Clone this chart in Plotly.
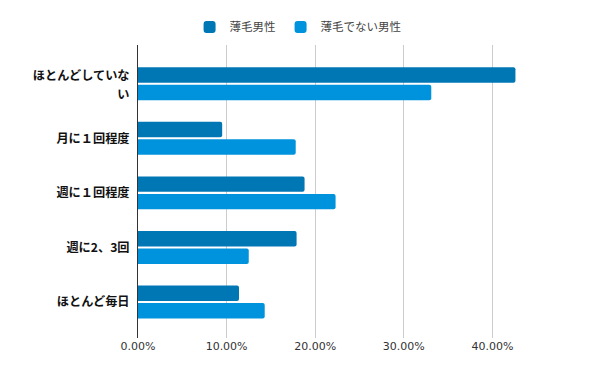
import plotly.graph_objects as go

categories = ["ほとんどしていな<br><span style='baseline-shift:-3px'>い</span>", "月に１回程度", "週に１回程度", "週に2、3回", "ほとんど毎日"]
series_names = ["薄毛男性", "薄毛でない男性"]
thin_hair = [0.426, 0.095, 0.188, 0.179, 0.114]
not_thin_hair = [0.331, 0.178, 0.223, 0.125, 0.143]
tick_vals = [0, 0.1, 0.2, 0.3, 0.4, 0.5]
tick_text = ["0.00%", "10.00%", "20.00%", "30.00%", "40.00%", ""]

colors = ["#0077B5", "#0093DD"]

fig = go.Figure()
for name, vals, c in zip(series_names, [thin_hair, not_thin_hair], colors):
    fig.add_trace(go.Bar(
        y=categories, x=vals, name=name, orientation="h",
        marker=dict(color=c, line=dict(width=0)),
        hoverinfo="x+y",
    ))

# the page body adds an 8px offset; figure sized to fit the 600x371 window
fig.update_layout(
    width=592, height=363,
    margin=dict(l=130, r=19, t=37, b=33),
    paper_bgcolor="white", plot_bgcolor="white",
    barmode="group", bargap=0.358, bargroupgap=0.12,
    barcornerradius=2,
    font=dict(family="DejaVu Sans, Noto Sans CJK JP", color="#333"),
    legend=dict(
        orientation="h", xref="container", yref="container",
        x=0.49, xanchor="center", y=0.948, yanchor="middle",
        font=dict(size=11.5, color="#444", family="Noto Sans CJK JP"),
        itemwidth=30, traceorder="normal",
    ),
    xaxis=dict(
        range=[0, 0.5], tickvals=tick_vals, ticktext=tick_text,
        showgrid=True, gridcolor="#CCCCCC", gridwidth=1,
        zeroline=False, showline=False, automargin=False,
        tickfont=dict(size=11, color="#333", family="DejaVu Sans"),
        ticks="", ticklabelstandoff=0,
    ),
    yaxis=dict(
        categoryorder="array", categoryarray=categories,
        range=[4.5 + 0.16, -0.5 - 0.21],
        showline=True, linecolor="#333", linewidth=1, automargin=False,
        showgrid=False, zeroline=False, ticks="",
        tickfont=dict(size=12.2, color="#111", family="Noto Sans CJK JP", weight="bold"),
        ticklabelstandoff=5,
    ),
)

fig.write_html("out.html")
